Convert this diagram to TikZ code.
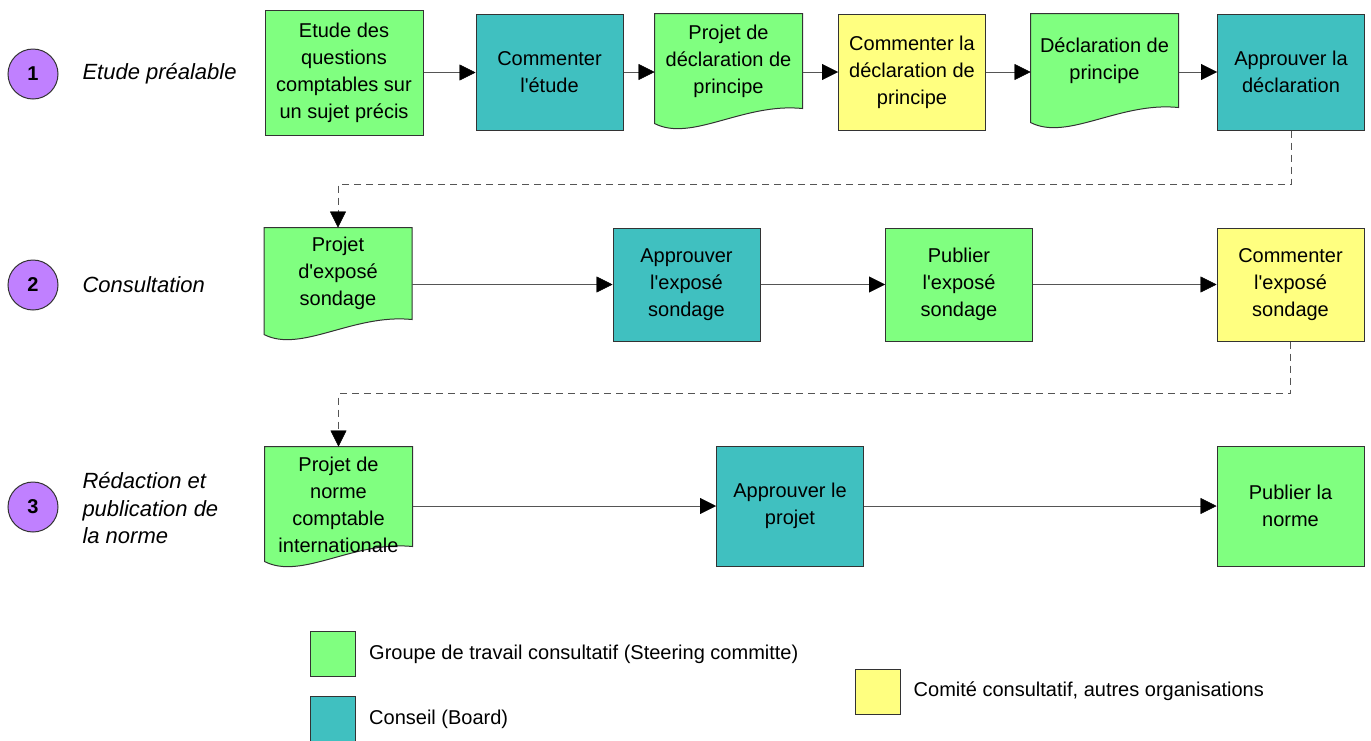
\documentclass[tikz,border=0pt]{standalone}
\usepackage{fontspec}
\setmainfont{Liberation Sans}[Ligatures=TeXOff]
\usetikzlibrary{arrows.meta,backgrounds,calc}
\definecolor{grp}{HTML}{80FF80}
\definecolor{brd}{HTML}{40C0C0}
\definecolor{cmt}{HTML}{FFFF80}
\definecolor{phasefill}{HTML}{C080FF}
\definecolor{edge}{HTML}{333333}
\definecolor{wire}{HTML}{555555}

% wavy bottom for the document boxes
\newcommand\docshape[3][0]{%
  \begin{pgfonlayer}{background}
  \path[draw=edge, line width=1pt, fill=#3]
    ([yshift=#1pt]#2.south west) coordinate (lb)
    ([yshift=#1pt]#2.south east) coordinate (rb)
    (#2.north west) -- (#2.north east) -- (rb)
    .. controls ($(lb)!0.6!(rb)+(0,-6)$) and ($(lb)!0.25!(rb)+(0,34)$) .. ($(lb)+(0,15)$)
    -- cycle;
  \end{pgfonlayer}}

\begin{document}
\begin{tikzpicture}
  [x=1pt, y=-1pt, line width=1pt,
   every node/.style={font=\fontsize{20}{27}\selectfont},
   box/.style={draw=edge, align=center, minimum width=147pt, minimum height=116pt, inner sep=2pt},
   docbox/.style={align=center, minimum width=147pt, inner sep=2pt},
   phase/.style={circle, draw=edge, fill=phasefill, minimum size=50pt, inner sep=0pt,
                 font=\fontsize{20}{27}\selectfont\bfseries},
   phasetext/.style={anchor=west, align=left, inner sep=0pt,
                     font=\fontsize{22}{27.5}\selectfont\itshape},
   key/.style={draw=edge, minimum size=45pt, inner sep=0pt},
   arr/.style={draw=wire, -{Triangle[length=16pt,width=16pt,color=black]}},
   dasharr/.style={arr, dash pattern=on 7pt off 5pt}]
  \useasboundingbox (0,0) rectangle (1371,740);

  % phases
  \node[phase] (p1) at (33,74) {1};
  \node[phase] (p2) at (33,285) {2};
  \node[phase] (p3) at (33,507) {3};
  \node[phasetext] (t1) at (82,74) {Etude préalable};
  \node[phasetext] (t2) at (82,285) {Consultation};
  \node[phasetext] (t3) at (82,508) {Rédaction et\\publication de\\la norme};

  % row 1
  \node[box, fill=grp, minimum width=158pt, minimum height=125pt] (etude) at (344,72.5)
    {Etude des\\questions\\comptables sur\\un sujet précis};
  \node[box, fill=brd] (commetude) at (549.5,72) {Commenter\\l'étude};
  \node[docbox, minimum height=94pt] (projdecl) at (728.5,61) {Projet de\\déclaration de\\principe};
  \node[box, fill=cmt] (commdecl) at (912,72) {Commenter la\\déclaration de\\principe};
  \node[docbox, minimum height=93pt] (decl) at (1104.5,60.5) {Déclaration de\\principe};
  \node[box, fill=brd] (approdecl) at (1291,72) {Approuver la\\déclaration};

  % row 2
  \node[docbox, minimum height=91pt] (projexp) at (338,273.5) {Projet\\d'exposé\\sondage};
  \node[box, fill=brd, minimum height=113pt] (approexp) at (686.5,284.5) {Approuver\\l'exposé\\sondage};
  \node[box, fill=grp, minimum height=113pt] (pubexp) at (959,284.5) {Publier\\l'exposé\\sondage};
  \node[box, fill=cmt, minimum height=113pt] (commexp) at (1290.5,284.5) {Commenter\\l'exposé\\sondage};

  % row 3
  \node[docbox, minimum height=116pt] (projnorme) at (338.5,505)
    {Projet de\\norme\\comptable\\internationale};
  \node[box, fill=brd, minimum height=120pt] (approproj) at (790,506) {Approuver le\\projet};
  \node[box, fill=grp, minimum height=120pt] (pubnorme) at (1290.5,506) {Publier la\\norme};

  \docshape{projdecl}{grp}
  \docshape{decl}{grp}
  \docshape{projexp}{grp}
  \docshape[17]{projnorme}{grp}

  \draw[arr] (etude.east) -- (etude.east -| commetude.west);
  \draw[arr] (commetude.east) -- (commetude.east -| projdecl.west);
  \draw[arr] (projdecl.east |- commdecl) -- (commdecl.west);
  \draw[arr] (commdecl.east) -- (commdecl.east -| decl.west);
  \draw[arr] (decl.east |- approdecl) -- (approdecl.west);
  \draw[dasharr] (approdecl.south) -- ++(0,54) -| (projexp.north);

  \draw[arr] (projexp.east |- approexp) -- (approexp.west);
  \draw[arr] (approexp.east) -- (pubexp.west);
  \draw[arr] (pubexp.east) -- (commexp.west);
  \draw[dasharr] (commexp.south) -- ++(0,52) -| (projnorme.north);

  \draw[arr] (projnorme.east |- approproj) -- (approproj.west);
  \draw[arr] (approproj.east) -- (pubnorme.west);

  % legend
  \node[key, fill=grp] (kgrp) at (333,654) {};
  \node[key, fill=brd] (kbrd) at (333,719) {};
  \node[key, fill=cmt] (kcmt) at (877.5,691.5) {};
  \node[anchor=west] (lgrp) at ([xshift=10pt]kgrp.east) {Groupe de travail consultatif (Steering committe)};
  \node[anchor=west] (lbrd) at ([xshift=10pt]kbrd.east) {Conseil (Board)};
  \node[anchor=west] (lcmt) at ([xshift=10pt]kcmt.east) {Comité consultatif, autres organisations};
\end{tikzpicture}
\end{document}
